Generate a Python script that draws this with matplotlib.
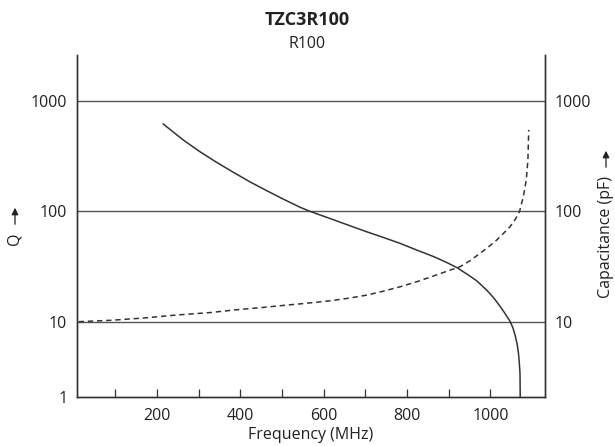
import numpy as np
import matplotlib
matplotlib.use("Agg")
import matplotlib.pyplot as plt
from matplotlib.patches import FancyArrowPatch

plt.rcParams['font.family'] = ['Open Sans', 'DejaVu Sans']

# Q curve (solid)
q_freq = [215, 263, 303, 343, 383, 423, 463, 503, 543, 567, 623, 663, 703,
          743, 783, 823, 863, 895, 919, 945, 967, 990, 1007, 1020, 1031, 1040,
          1047, 1054, 1059, 1064, 1067, 1069, 1071, 1071.5]
q_val = [618, 443, 347, 278, 226, 185, 154, 129, 109, 100, 84, 74, 65.3,
         58, 51.3, 44.6, 39, 34.4, 31, 26.8, 23.5, 19.5, 16.6, 14.3, 12.5, 11.1,
         10.1, 8.8, 7.6, 6.3, 5.3, 4.4, 3.4, 2.1]

# capacitance curve (dashed)
c_freq = [12, 90, 168, 248, 328, 388, 448, 500, 543, 582, 623, 663, 703, 743,
          783, 823, 863, 895, 927, 950, 975, 995, 1015, 1031, 1047, 1060, 1070,
          1079, 1086, 1090, 1091, 1092]
c_val = [10, 10.3, 10.8, 11.5, 12.1, 12.8, 13.4, 14, 14.5, 15, 15.6, 16.4, 17.4,
         18.9, 20.7, 23, 25.9, 28.6, 31.5, 35.5, 41.6, 47.5, 54.9, 63, 72.4, 85,
         100, 136, 192, 292, 414, 546]

x_ticks = [100, 200, 300, 400, 500, 600, 700, 800, 900, 1000]
x_labels = ['', '200', '', '400', '', '600', '', '800', '', '1000']
y_grid = [10, 100, 1000]

ymin, ymax = 2.09, 2610
xmin, xmax = 8, 1131
ink = '#333333'
txt = '#222222'

fig = plt.figure(figsize=(6.15, 4.46), dpi=100)
ax = fig.add_axes([0.1252, 0.1105, 0.7610, 0.7662])

ax.plot(q_freq, q_val, color=ink, lw=1.1, solid_joinstyle='round')
ax.plot(c_freq, c_val, color=ink, lw=1.1, ls=(0, (3.5, 2.5)))

ax.set_yscale('log')
ax.set_xlim(xmin, xmax)
ax.set_ylim(ymin, ymax)
for g in y_grid:
    ax.axhline(g, color='#555555', lw=1.0, zorder=0)

ax.set_xticks(x_ticks)
ax.set_xticklabels(x_labels)
ax.tick_params(axis='x', direction='in', length=6, width=0.9, color=ink,
               labelsize=11.5, labelcolor=txt, pad=8)
ax.set_yticks([ymin] + y_grid)
ax.set_yticklabels(['1', '10', '100', '1000'])
ax.minorticks_off()
ax.tick_params(axis='y', length=0, labelsize=11.5, labelcolor=txt, pad=7)
ax.set_xlabel('Frequency (MHz)', fontsize=11.5, color=txt, labelpad=2)

ax2 = ax.twinx()
ax2.set_yscale('log')
ax2.set_ylim(ymin, ymax)
ax2.set_yticks(y_grid)
ax2.set_yticklabels(['10', '100', '1000'])
ax2.minorticks_off()
ax2.tick_params(axis='y', length=0, labelsize=11.5, labelcolor=txt, pad=7)

for a in (ax, ax2):
    a.spines['top'].set_visible(False)
    for side in ('left', 'right', 'bottom'):
        a.spines[side].set_color(ink)
        a.spines[side].set_linewidth(1.0)

fig.text(0.5, 1 - 20 / 446, 'TZC3R100', ha='center', va='center',
         fontsize=13, fontweight='bold', color=txt)
fig.text(0.5, 1 - 44 / 446, 'R100', ha='center', va='center',
         fontsize=11.5, color=txt)

# axis titles with arrows
fig.text(15 / 615, 1 - 239 / 446, 'Q', rotation=90, ha='center', va='center',
         fontsize=11.5, color=txt)
fig.add_artist(FancyArrowPatch(
    (15 / 615, 1 - 227 / 446), (15 / 615, 1 - 205 / 446), transform=fig.transFigure,
    arrowstyle='-|>,head_length=4,head_width=2', color=txt, lw=0.9))
fig.text(606 / 615, 1 - 237 / 446, 'Capacitance (pF)', rotation=90, ha='center',
         va='center', fontsize=11.5, color=txt)
fig.add_artist(FancyArrowPatch(
    (606 / 615, 1 - 170 / 446), (606 / 615, 1 - 148 / 446), transform=fig.transFigure,
    arrowstyle='-|>,head_length=4,head_width=2', color=txt, lw=0.9))

fig.savefig('out.png', dpi=100)
